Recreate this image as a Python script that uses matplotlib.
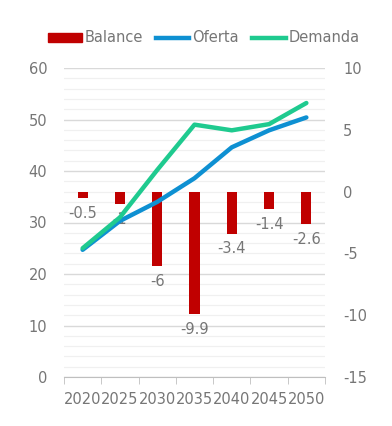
import matplotlib
matplotlib.use("Agg")
import matplotlib.pyplot as plt
import numpy as np
from matplotlib.patches import Patch
from matplotlib.lines import Line2D
from matplotlib.ticker import MultipleLocator, FixedLocator

years = ["2020", "2025", "2030", "2035", "2040", "2045", "2050"]
balance = [-0.5, -1, -6, -9.9, -3.4, -1.4, -2.6]
oferta = [24.7, 30.3, 34.0, 38.6, 44.6, 47.9, 50.4]
demanda = [25.0, 31.0, 40.2, 49.0, 47.9, 49.1, 53.2]
balance_labels = ["-0.5", "-1", "-6", "-9.9", "-3.4", "-1.4", "-2.6"]

RED = "#C00000"
BLUE = "#0E90D2"
GREEN = "#1FCA8F"
TXT = "#767676"
FS = 10.5

plt.rcParams['font.family'] = ['DejaVu Sans']
plt.rcParams['axes.unicode_minus'] = False

fig = plt.figure(figsize=(3.92, 4.26), dpi=100)
pos = [64/392, 49/426, (325-64)/392, (377-68)/426]
x = np.arange(len(years))

# base axes: grid + left labels + x axis
ax = fig.add_axes(pos)
ax.set_zorder(0)
ax.set_xlim(-0.5, len(years) - 0.5)
ax.set_ylim(0, 60)
ax.yaxis.set_major_locator(MultipleLocator(10))
ax.yaxis.set_minor_locator(MultipleLocator(2))
ax.grid(axis='y', which='major', color='#D9D9D9', linewidth=1.0)
ax.grid(axis='y', which='minor', color='#F0F0F0', linewidth=0.9)
ax.set_axisbelow(True)
for s in ['top', 'left', 'right']:
    ax.spines[s].set_visible(False)
ax.spines['bottom'].set_color('#BFBFBF')
ax.set_xticks(x)
ax.set_xticklabels(years)
ax.xaxis.set_minor_locator(FixedLocator(np.arange(-0.5, len(years), 1.0)))
ax.tick_params(axis='x', which='major', length=0, pad=11, labelsize=FS, labelcolor=TXT)
ax.tick_params(axis='x', which='minor', length=5, color='#BFBFBF')
ax.tick_params(axis='y', which='both', length=0, pad=12, labelsize=FS, labelcolor=TXT)

# right axes: bars
ax2 = ax.twinx()
ax2.set_zorder(1)
ax2.patch.set_visible(False)
ax2.set_ylim(-15, 10)
ax2.yaxis.set_major_locator(MultipleLocator(5))
for s in ['top', 'left', 'right', 'bottom']:
    ax2.spines[s].set_visible(False)
ax2.tick_params(axis='y', length=0, pad=13, labelsize=FS, labelcolor=TXT)
ax2.bar(x, balance, width=0.27, color=RED)
for xi, v, lab in zip(x, balance, balance_labels):
    ax2.annotate(lab, (xi, v), xytext=(0, -11), textcoords='offset points',
                 ha='center', va='center', fontsize=FS, color=TXT)

# line axes on top
ax3 = fig.add_axes(pos, sharex=ax, sharey=ax)
ax3.set_zorder(2)
ax3.patch.set_visible(False)
ax3.axis('off')
ax3.plot(x, oferta, color=BLUE, linewidth=3.2, solid_capstyle='round')
ax3.plot(x, demanda, color=GREEN, linewidth=3.2, solid_capstyle='round')

handles = [Patch(color=RED), Line2D([], [], color=BLUE, linewidth=3.2),
           Line2D([], [], color=GREEN, linewidth=3.2)]
fig.legend(handles, ["Balance", "Oferta", "Demanda"], loc='center',
           bbox_to_anchor=(0.52, 1 - 38/426), ncol=3, frameon=False,
           fontsize=FS, labelcolor=TXT, handlelength=2.3, handleheight=0.6,
           handletextpad=0.2, columnspacing=0.9, borderaxespad=0)

fig.savefig("out.png", dpi=100)
